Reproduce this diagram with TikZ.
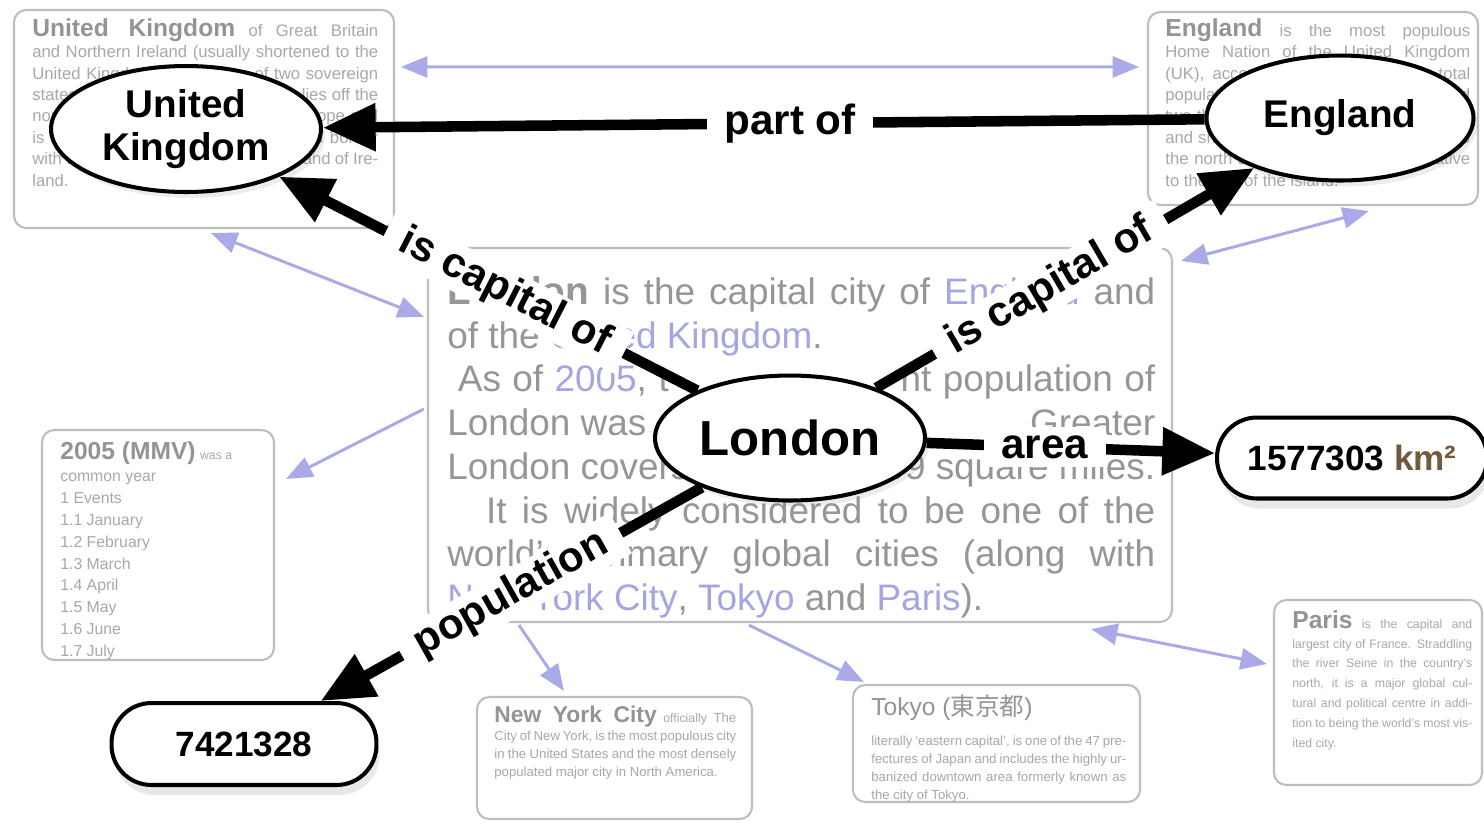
\documentclass[tikz,border=0pt]{standalone}
\usepackage{fontspec}
\setmainfont{Liberation Sans}
\newfontfamily\cjkfont{Noto Sans CJK JP}
\usetikzlibrary{arrows.meta,shapes.geometric,shadows,calc,fit}
\definecolor{boxline}{RGB}{190,190,190}
\definecolor{txtgrey}{RGB}{168,168,168}
\definecolor{ttlgrey}{RGB}{148,148,148}
\definecolor{lontxt}{RGB}{150,150,150}
\definecolor{linkblue}{RGB}{165,165,225}
\definecolor{arrblue}{RGB}{170,170,232}
\definecolor{kmbrown}{RGB}{112,92,60}
\newcommand\lnk[1]{\textcolor{linkblue}{#1}}
\newcommand\boxtitle{\bfseries\fontsize{14}{14}\selectfont\color{ttlgrey}}
\newcommand\smalltxt{\fontsize{7}{8}\selectfont}
\begin{document}
\begin{tikzpicture}[x=0.02cm, y=-0.02cm,
  gbox/.style={draw=boxline, line width=1.2pt, rounded corners=7pt, inner sep=0pt, fill=white},
  boxtext/.style={anchor=north west, inner sep=0pt, text=txtgrey},
  ell/.style={ellipse, draw=black, line width=2.3pt, fill=white, inner sep=0pt,
    drop shadow={opacity=0.15, shadow xshift=0.08cm, shadow yshift=-0.12cm}},
  valnode/.style={draw=black, line width=2.3pt, fill=white, rounded corners=0.8cm, inner sep=0pt,
    drop shadow={opacity=0.18, shadow xshift=0.06cm, shadow yshift=-0.2cm}},
  bigarr/.style={line width=6pt, -{Triangle[length=30pt,width=26pt]}},
  lbl/.style={fill=white, inner xsep=10pt, inner ysep=2pt, font=\bfseries\fontsize{24}{24}\selectfont},
  barr/.style={draw=arrblue, line width=1.7pt, -{Triangle[length=15pt,width=12pt]}},
  bbarr/.style={draw=arrblue, line width=1.7pt, {Triangle[length=15pt,width=12pt]}-{Triangle[length=15pt,width=12pt]}}
]
\useasboundingbox[fill=white] (0,0) rectangle (1484,823);

% ---------- grey article boxes ----------
\node[gbox, fit={(14,10) (394,228)}] (ukbox) {};
\node[gbox, fit={(1148,12) (1478,205)}] (engbox) {};
\node[gbox, fit={(428,248) (1172,622)}] (lonbox) {};
\node[gbox, fit={(42,430) (274,660)}] (yearbox) {};
\node[gbox, fit={(477,697) (752,819)}] (nycbox) {};
\node[gbox, fit={(853,685) (1140,802)}] (tokbox) {};
\node[gbox, fit={(1274,600) (1482,785)}] (parbox) {};

\begin{scope}
\clip[rounded corners=7pt] (14,10) rectangle (394,228);
\node[boxtext, text width=6.92cm, align=justify, font=\fontsize{9.5}{12.2}\selectfont] (uktxt) at (32,18)
 {{\boxtitle United Kingdom} of Great Britain\linebreak and Northern Ireland (usually shortened to the United Kingdom (UK)) is one of two sovereign states occupying the British Isles. It lies off the north-western coast of continental Europe and is an island nation, apart from its land border with the Republic of Ireland on the island of Ireland.};
\end{scope}

\begin{scope}
\clip[rounded corners=7pt] (1148,12) rectangle (1478,205);
\node[boxtext, text width=6.1cm, align=justify, font=\fontsize{9.5}{12.2}\selectfont] (engtxt) at (1165,18)
 {{\boxtitle England} is the most populous\linebreak Home Nation of the United Kingdom (UK), accounting for 83.6\% of the total population of the UK. It occupies around two-thirds of the island of Great Britain, and shares land borders with Scotland to the north and Wales to the west, relative to the rest of the island.};
\end{scope}

\begin{scope}
\clip[rounded corners=7pt] (42,430) rectangle (274,660);
\node[boxtext, align=left, font=\fontsize{9}{12.5}\selectfont] (yeartxt) at (60,441)
 {{\boxtitle 2005 (MMV)} {\smalltxt was a}\\ common year\\ 1 Events\\ 1.1 January\\ 1.2 February\\ 1.3 March\\ 1.4 April\\ 1.5 May\\ 1.6 June\\ 1.7 July};
\end{scope}

\begin{scope}
\clip[rounded corners=7pt] (477,697) rectangle (752,819);
\node[boxtext, text width=4.84cm, align=justify, font=\fontsize{7.5}{10.2}\selectfont] (nyctxt) at (494,706)
 {{\boxtitle\fontsize{13}{13}\selectfont New York City} {\smalltxt officially} The City of New York, is the most populous city in the United States and the most densely populated major city in North America.};
\end{scope}

\begin{scope}
\clip[rounded corners=7pt] (853,685) rectangle (1140,802);
\node[boxtext, text width=5.1cm, align=justify, font=\fontsize{7.5}{10.2}\selectfont] (toktxt) at (871,694)
 {{\fontsize{14}{14}\selectfont\color{ttlgrey}Tokyo ({\cjkfont 東京都})}\\[7pt] literally `eastern capital', is one of the 47 prefectures of Japan and includes the highly urbanized downtown area formerly known as the city of Tokyo.};
\end{scope}

\begin{scope}
\clip[rounded corners=7pt] (1274,600) rectangle (1482,785);
\node[boxtext, text width=3.6cm, align=justify, font=\fontsize{7}{11.3}\selectfont] (partxt) at (1292,610)
 {{\boxtitle Paris} is the capital and largest city of France. Straddling the river Seine in the country's north, it is a major global cultural and political centre in addition to being the world's most visited city.};
\end{scope}

\node[boxtext, text=lontxt] (lontxt) at (447,276)
 {\begin{minipage}{14.16cm}\fontsize{21}{24.9}\selectfont
  \hbox to\linewidth{{\bfseries\fontsize{22}{24.9}\selectfont London} is the capital city of \lnk{England} and}
  \hbox to\linewidth{of the \lnk{United Kingdom}.\hfil}
  \hbox to\linewidth{\kern6pt As of \lnk{2005}, t\phantom{he total reside}nt population of}
  \hbox to\linewidth{London was\hfill 7,421,328.\hfill Greater}
  \hbox to\linewidth{London covers\hfill 609 square miles.}
  \hbox to\linewidth{\kern22pt It is widely considered to be one of the}
  \hbox to\linewidth{world's primary global cities (along with}
  \hbox to\linewidth{\lnk{New York City}, \lnk{Tokyo} and \lnk{Paris}).\hfil}
 \end{minipage}};

% ---------- blue link arrows ----------
\draw[bbarr] ($(ukbox.north east)+(6,58)$) -- ($(engbox.north west)+(-8,56)$);
\draw[bbarr] ($(ukbox.south west)+(198,4)$) -- ($(lonbox.north west)+(-3,70)$);
\draw[barr] ($(lonbox.north west)+(-3,162)$) -- ($(yearbox.north east)+(11,50)$);
\draw[bbarr] ($(lonbox.north east)+(8,14)$) -- ($(engbox.south west)+(222,5)$);
\draw[barr] ($(lonbox.south west)+(92,2)$) -- ($(nycbox.north west)+(88,-5)$);
\draw[barr] ($(lonbox.south west)+(322,2)$) -- ($(tokbox.north west)+(12,-2)$);
\draw[bbarr] ($(lonbox.south east)+(-82,6)$) -- ($(parbox.north west)+(-6,65)$);

% ---------- concept nodes ----------
\node[ell, minimum width=5.4cm, minimum height=2.52cm, align=center, font=\bfseries\fontsize{22}{24.4}\selectfont] (uk) at (186,129) {United\\Kingdom};
\node[ell, minimum width=5.34cm, minimum height=2.5cm, font=\bfseries\fontsize{22}{24}\selectfont] (eng) at (1340,118) {England};
\node[ell, minimum width=5.4cm, minimum height=2.5cm, font=\bfseries\fontsize{28}{28}\selectfont] (lon) at (790,438) {London};
\node[valnode, minimum width=5.3cm, minimum height=1.64cm, font=\bfseries\fontsize{20}{20}\selectfont] (pop) at (244,744) {7421328};
\node[valnode, minimum width=5.4cm, minimum height=1.62cm, font=\bfseries\fontsize{20}{20}\selectfont] (km) at (1352,458) {1577303 \textcolor{kmbrown}{km²}};

% ---------- relations ----------
\draw[bigarr] (eng) -- node[lbl, pos=0.47] {part of} (uk);
\draw[bigarr] (lon) -- node[lbl, sloped, pos=0.46] {is capital of} (uk);
\draw[bigarr] (lon) -- node[lbl, sloped, pos=0.46] {is capital of} (eng);
\draw[bigarr] (lon) -- node[lbl, pos=0.41, inner ysep=5pt] {area} (km);
\draw[bigarr] (lon) -- node[lbl, sloped, pos=0.5] {population} (pop);
\end{tikzpicture}
\end{document}
